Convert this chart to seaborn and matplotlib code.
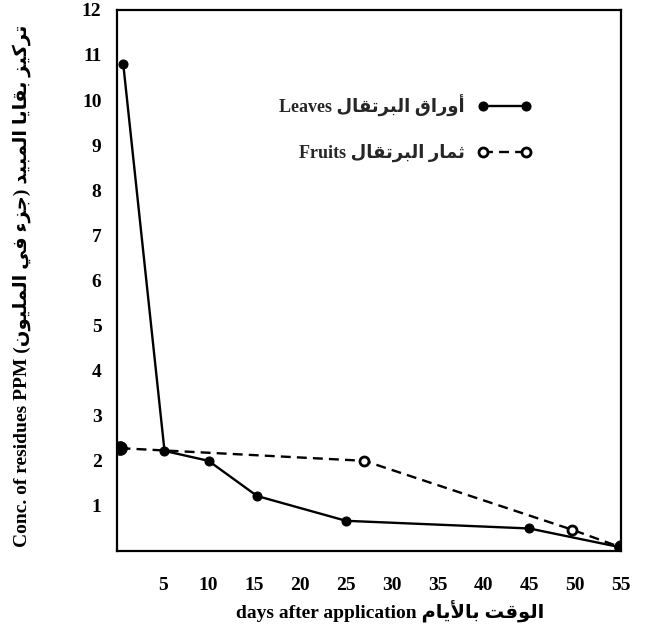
import numpy as np
import pandas as pd
import matplotlib
matplotlib.use("Agg")
import matplotlib.pyplot as plt
import seaborn as sns

# ---------------- data ----------------
leaves_days = [0.7, 5.2, 10, 15.3, 25, 45, 55]
leaves_ppm = [10.8, 2.22, 2.0, 1.22, 0.67, 0.5, 0.08]
fruit_days = [0.4, 27, 49.7, 55]
fruit_ppm = [2.28, 2.0, 0.47, 0.08]
x_ticks = [5, 10, 15, 20, 25, 30, 35, 40, 45, 50, 55]
y_ticks = [1, 2, 3, 4, 5, 6, 7, 8, 9, 10, 11, 12]
leaves_ar = "أوراق البرتقال"
fruits_ar = "ثمار البرتقال"
ylabel_ar = "تركيز بقايا المبيد (جزء في المليون)"
xlabel_ar = "الوقت بالأيام"

# ---------------- minimal Arabic shaping ----------------
FORMS = {
    "\u0621": ("\uFE80",),
    "\u0623": ("\uFE83", "\uFE84"),
    "\u0627": ("\uFE8D", "\uFE8E"),
    "\u0628": ("\uFE8F", "\uFE90", "\uFE91", "\uFE92"),
    "\u062A": ("\uFE95", "\uFE96", "\uFE97", "\uFE98"),
    "\u062B": ("\uFE99", "\uFE9A", "\uFE9B", "\uFE9C"),
    "\u062C": ("\uFE9D", "\uFE9E", "\uFE9F", "\uFEA0"),
    "\u062F": ("\uFEA9", "\uFEAA"),
    "\u0631": ("\uFEAD", "\uFEAE"),
    "\u0632": ("\uFEAF", "\uFEB0"),
    "\u0641": ("\uFED1", "\uFED2", "\uFED3", "\uFED4"),
    "\u0642": ("\uFED5", "\uFED6", "\uFED7", "\uFED8"),
    "\u0643": ("\uFED9", "\uFEDA", "\uFEDB", "\uFEDC"),
    "\u0644": ("\uFEDD", "\uFEDE", "\uFEDF", "\uFEE0"),
    "\u0645": ("\uFEE1", "\uFEE2", "\uFEE3", "\uFEE4"),
    "\u0646": ("\uFEE5", "\uFEE6", "\uFEE7", "\uFEE8"),
    "\u0648": ("\uFEED", "\uFEEE"),
    "\u064A": ("\uFEF1", "\uFEF2", "\uFEF3", "\uFEF4"),
}
LAMALEF = {"\u0627": ("\uFEFB", "\uFEFC"), "\u0623": ("\uFEF7", "\uFEF8")}


def shape(s):
    toks = []
    i = 0
    while i < len(s):
        c = s[i]
        if c == "\u0644" and i + 1 < len(s) and s[i + 1] in LAMALEF:
            toks.append(("LA", s[i + 1]))
            i += 2
        else:
            toks.append(("C", c))
            i += 1

    def jt(t):
        if t[0] == "LA":
            return "R"
        f = FORMS.get(t[1])
        if f is None:
            return "U"
        return {1: "U", 2: "R", 4: "D"}[len(f)]

    res = []
    for k, t in enumerate(toks):
        prev = toks[k - 1] if k > 0 else None
        nxt = toks[k + 1] if k + 1 < len(toks) else None
        jp = prev is not None and jt(prev) == "D" and jt(t) in ("R", "D")
        jn = nxt is not None and jt(t) == "D" and jt(nxt) in ("R", "D")
        if t[0] == "LA":
            iso, fin = LAMALEF[t[1]]
            res.append(fin if jp else iso)
            continue
        c = t[1]
        f = FORMS.get(c)
        if f is None:
            res.append(c)
        elif len(f) == 1:
            res.append(f[0])
        elif len(f) == 2:
            res.append(f[1] if jp else f[0])
        else:
            if jp and jn:
                res.append(f[3])
            elif jp:
                res.append(f[1])
            elif jn:
                res.append(f[2])
            else:
                res.append(f[0])
    vis = "".join(res)[::-1]
    return vis.translate(str.maketrans("()", ")("))


# ---------------- plot ----------------
sns.set_theme(style="white")
FAM = ["Liberation Serif", "DejaVu Sans"]
plt.rcParams["font.family"] = FAM
plt.rcParams["font.weight"] = "bold"

fig = plt.figure(figsize=(6.49, 6.33), dpi=100)
ax = fig.add_axes([0.180, 0.1295, 0.777, 0.855])

df_l = pd.DataFrame({"day": leaves_days, "ppm": leaves_ppm})
df_f = pd.DataFrame({"day": fruit_days, "ppm": fruit_ppm})

sns.lineplot(data=df_f, x="day", y="ppm", ax=ax, color="black", lw=1.7,
             linestyle=(0, (4.2, 2.6)), marker="o", markersize=6.5,
             markerfacecolor="white", markeredgecolor="black", markeredgewidth=2,
             label="Fruits " + shape(fruits_ar), sort=False, estimator=None)
sns.lineplot(data=df_l, x="day", y="ppm", ax=ax, color="black", lw=1.7,
             marker="o", markersize=6.5, markerfacecolor="black",
             markeredgecolor="black",
             label="Leaves " + shape(leaves_ar), sort=False, estimator=None)
# filled endpoints of the fruit series
sns.scatterplot(x=[fruit_days[0], fruit_days[-1]], y=[fruit_ppm[0], fruit_ppm[-1]],
                ax=ax, color="black", s=95, edgecolor="black", zorder=5, legend=False)

ax.set_xlim(0, 55)
ax.set_ylim(0, 12)
ax.set_xticks(x_ticks)
ax.set_xticklabels([str(v) for v in x_ticks])
ax.set_yticks(y_ticks)
ax.set_yticklabels([str(v) for v in y_ticks])
ax.tick_params(axis="x", direction="in", length=6, width=1.6, pad=19,
               labelsize=14, colors="black")
ax.tick_params(axis="y", direction="in", length=7, width=1.6, pad=11,
               labelsize=14, colors="black")
for lab in ax.get_xticklabels() + ax.get_yticklabels():
    lab.set_fontweight("bold")
for sp in ax.spines.values():
    sp.set_linewidth(1.6)
    sp.set_color("black")

ax.set_xlabel("days after application " + shape(xlabel_ar), fontsize=14,
              fontweight="bold", color="black")
ax.xaxis.set_label_coords(0.542, -0.113)
ax.xaxis.label.set_verticalalignment("center")
ax.set_ylabel("Conc. of residues PPM " + shape(ylabel_ar), fontsize=14,
              fontweight="bold", color="black")
ax.yaxis.set_label_coords(-0.188, 0.49)
ax.yaxis.label.set_verticalalignment("center")

h, l = ax.get_legend_handles_labels()
order = [1, 0]
leg = ax.legend([h[i] for i in order], [l[i] for i in order],
                loc="upper right", bbox_to_anchor=(0.84, 0.86),
                frameon=False, markerfirst=False, numpoints=2,
                handlelength=3.0, handletextpad=0.7, labelspacing=1.5,
                borderpad=0, prop={"size": 13, "weight": "bold", "family": FAM})

fig.savefig("out.png", dpi=100, facecolor="white")
